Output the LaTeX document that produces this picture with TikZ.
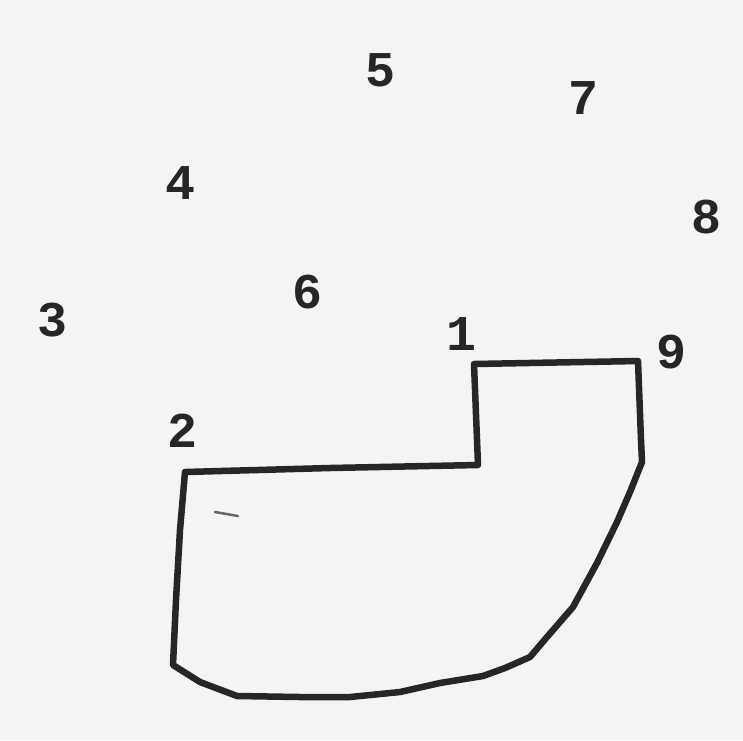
\documentclass[tikz,border=0pt]{standalone}
\usepackage{fontspec}
\newfontfamily\numfont{Liberation Mono}
\definecolor{paper}{HTML}{F4F4F2}
\definecolor{ink}{HTML}{262626}
\begin{document}
\begin{tikzpicture}[x=1pt,y=-1pt,
  num/.style={text=ink,font=\numfont\bfseries\fontsize{50}{50}\selectfont,inner sep=0pt,anchor=center},
  outline/.style={draw=ink,line width=6.5pt,line join=round,line cap=round}]
\fill[paper] (0,0) rectangle (743,740);
\useasboundingbox (0,0) rectangle (743,740);
\node[num] (n5) at (380,70) {5};
\node[num] (n7) at (583,98) {7};
\node[num] (n4) at (180,183) {4};
\node[num] (n8) at (706,217) {8};
\node[num] (n6) at (307,292) {6};
\node[num] (n3) at (53,320) {3};
\node[num] (n1) at (461,334) {1};
\node[num] (n9) at (671,352) {9};
\node[num] (n2) at (182,431) {2};
\draw[outline] (474,364) -- (638,361) -- (641,440) -- (642,462)
  -- (630,492) -- (617,522) -- (597,563) -- (573,607) -- (547,637)
  -- (530,657) -- (505,668) -- (483,676) -- (440,683) -- (400,692)
  -- (350,697) -- (300,697) -- (237,696) -- (200,682) -- (173,665)
  -- (176,600) -- (180,530) -- (185,472) -- (330,468) -- (478,465) -- cycle;
\draw[ink!70,line width=2.5pt,line cap=round] (215,512) -- (238,516);
\end{tikzpicture}
\end{document}
